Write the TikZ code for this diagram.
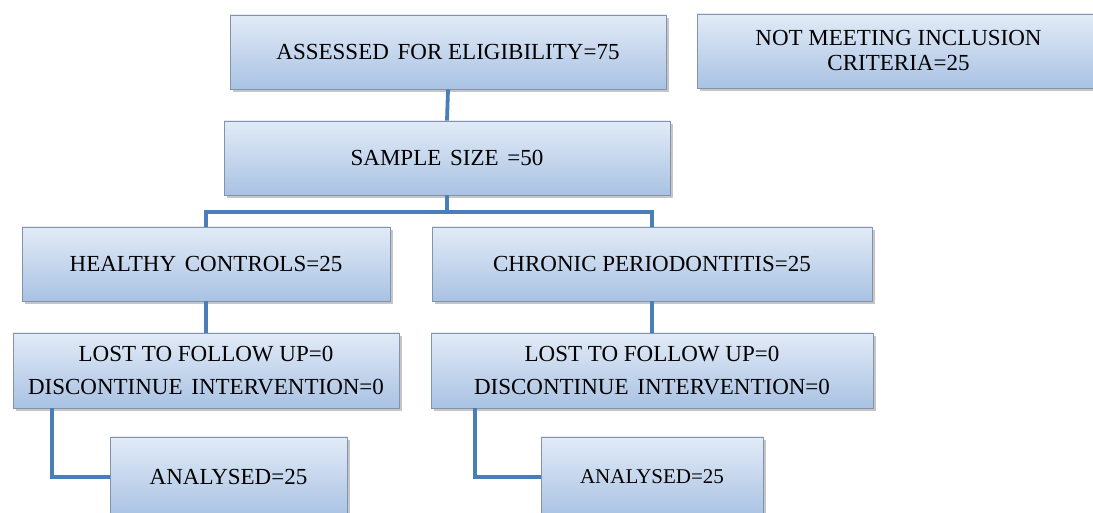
\documentclass[tikz,border=0pt]{standalone}
\usepackage{fontspec}
\setmainfont{Liberation Serif}
\usetikzlibrary{shadows,calc}
\definecolor{lnk}{HTML}{4A7EBB}
\definecolor{bdr}{HTML}{8393AB}
\definecolor{gtop}{HTML}{E2EBF7}
\definecolor{gbot}{HTML}{A9C2E3}
\begin{document}
\begin{tikzpicture}[x=1pt,y=1pt,
 box/.style={draw=bdr, line width=0.8pt, top color=gtop, bottom color=gbot, inner sep=0pt, align=center,
   font=\fontsize{23}{33}\selectfont,
   drop shadow={opacity=0.45, shadow xshift=2.5pt, shadow yshift=-3pt}},
 link/.style={draw=lnk, line width=3.8pt}]
\useasboundingbox (0,0) rectangle (1093,513);
\clip (0,0) rectangle (1093,513);
\node[box, minimum width=436pt, minimum height=74pt] (A) at (448,461) {ASSESSED\hspace{3pt} FOR ELIGIBILITY=75};
\node[box, minimum width=403pt, minimum height=74pt, font=\fontsize{23}{25}\selectfont] (NM) at (898.5,462) {NOT MEETING INCLUSION\\CRITERIA=25};
\node[box, minimum width=446pt, minimum height=74pt] (S) at (447,355) {SAMPLE\hspace{3pt} SIZE\hspace{3pt} =50};
\node[box, minimum width=368pt, minimum height=74pt] (HC) at (206,249) {HEALTHY\hspace{3pt} CONTROLS=25};
\node[box, minimum width=440pt, minimum height=74pt] (CP) at (652,249) {CHRONIC PERIODONTITIS=25};
\node[box, minimum width=386pt, minimum height=75pt] (L1) at (206,142.5) {LOST TO FOLLOW UP=0\\DISCONTINUE\hspace{3pt} INTERVENTION=0};
\node[box, minimum width=442pt, minimum height=75pt] (L2) at (652,142.5) {LOST TO FOLLOW UP=0\\DISCONTINUE\hspace{3pt} INTERVENTION=0};
\node[box, minimum width=237pt, minimum height=80pt] (AN1) at (228.5,36) {ANALYSED=25};
\node[box, minimum width=222pt, minimum height=80pt, font=\fontsize{21}{24}\selectfont] (AN2) at (652,36) {ANALYSED=25};
\coordinate (j) at ($(S.south)+(0,-17)$);
\draw[link] (A.south) -- (S.north);
\draw[link] (S.south) -- (j);
\draw[link, line join=miter] (HC.north) -- (HC.north |- j) -- (CP.north |- j) -- (CP.north);
\draw[link] (HC.south) -- (L1.north);
\draw[link] (CP.south) -- (L2.north);
\draw[link, line join=miter] ([xshift=39pt]L1.south west) |- (AN1.west);
\draw[link, line join=miter] ([xshift=44pt]L2.south west) |- (AN2.west);
\end{tikzpicture}
\end{document}
